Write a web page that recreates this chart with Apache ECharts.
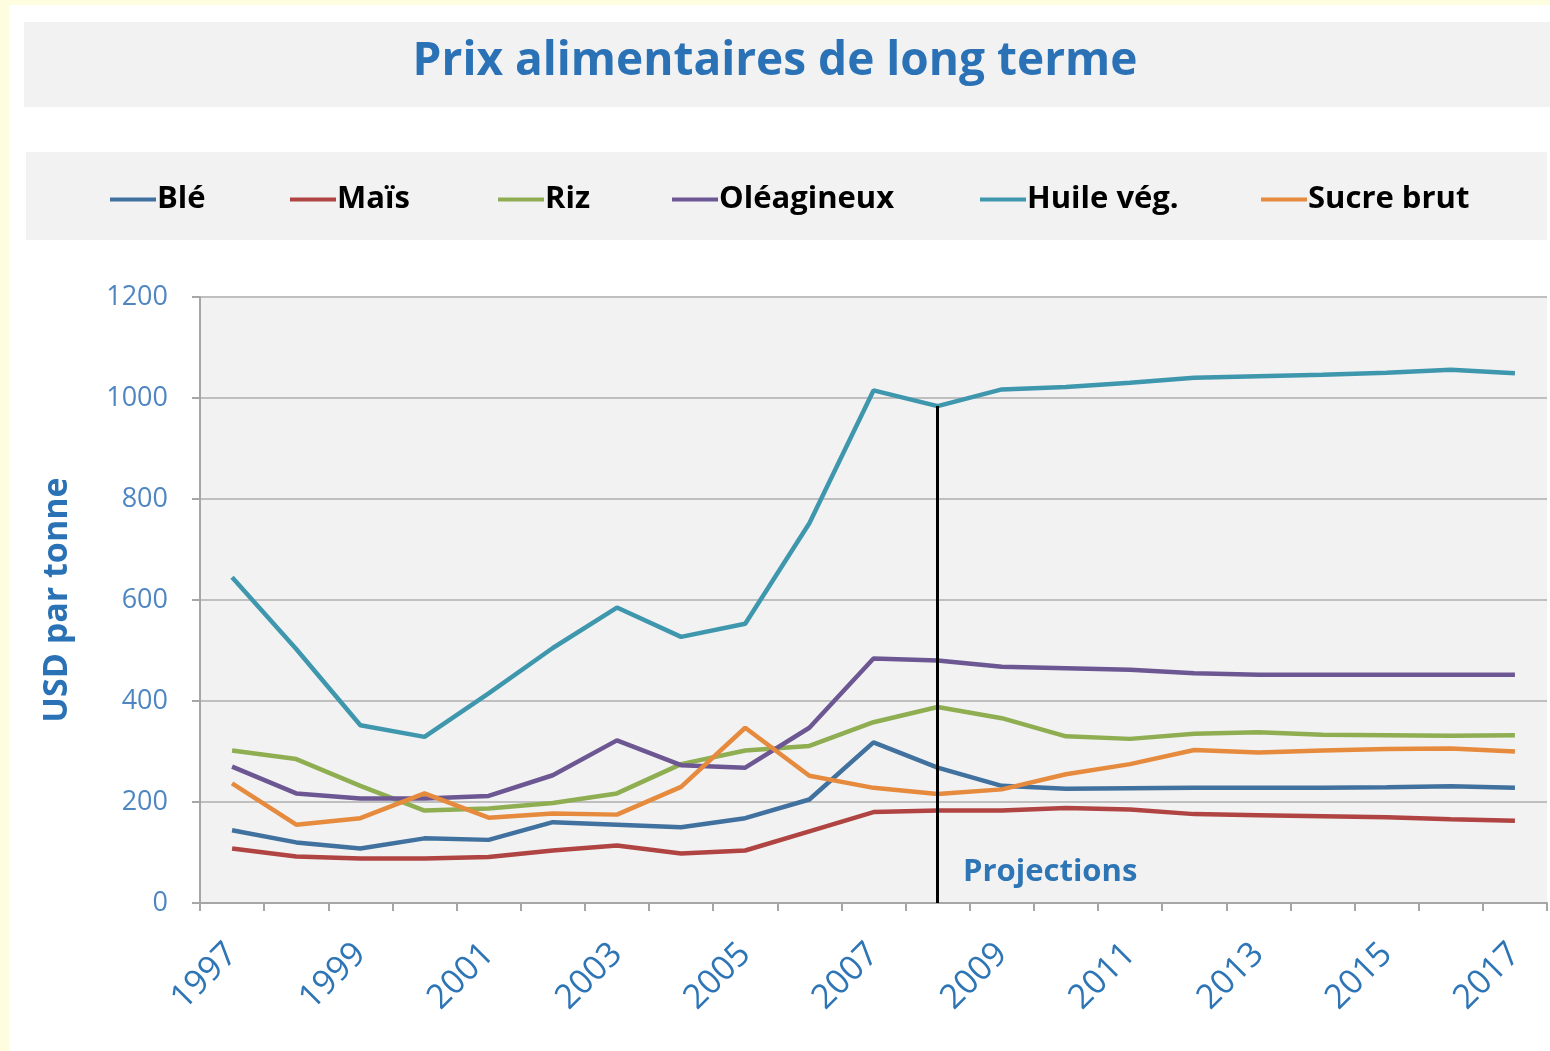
<!DOCTYPE html>
<html>
<head>
<meta charset="utf-8">
<script src="https://cdn.jsdelivr.net/npm/echarts@6/dist/echarts.min.js"></script>
<style>
  html, body { margin: 0; padding: 0; background: #fff; }
  #main { width: 1550px; height: 1051px; }
</style>
</head>
<body>
<div id="main"></div>
<script>
// données (USD par tonne)
var years = ['1997', '1998', '1999', '2000', '2001', '2002', '2003', '2004', '2005', '2006', '2007',
    '2008', '2009', '2010', '2011', '2012', '2013', '2014', '2015', '2016', '2017'];
var ble = [144, 120, 108, 128, 125, 160, 155, 150, 168, 205, 318, 268, 232, 226, 227, 228, 228, 228, 229, 231, 228];
var mais = [108, 92, 88, 88, 91, 104, 114, 98, 104, 142, 180, 183, 183, 188, 185, 176, 174, 172, 170, 166, 163];
var riz = [302, 285, 232, 183, 187, 198, 217, 275, 302, 311, 358, 388, 366, 330, 325, 335, 338, 333, 332, 331, 332];
var oleagineux = [270, 217, 207, 207, 212, 253, 322, 273, 268, 347, 484, 480, 468, 465, 462, 455, 452, 452, 452, 452, 452];
var huile = [645, 503, 352, 329, 415, 505, 585, 527, 553, 752, 1015, 984, 1017, 1022, 1030, 1040, 1043, 1046, 1050, 1056, 1049];
var sucre = [237, 155, 168, 217, 169, 177, 175, 230, 347, 252, 228, 216, 225, 255, 275, 303, 298, 302, 305, 306, 300];
var yTicks = [0, 200, 400, 600, 800, 1000, 1200];
var projYear = '2008';
var projTop = 984;

var names = ['Blé', 'Maïs', 'Riz', 'Oléagineux', 'Huile vég.', 'Sucre brut'];
var values = [ble, mais, riz, oleagineux, huile, sucre];
var colors = ['#41719f', '#b04442', '#8fae52', '#6c5793', '#3f97ae', '#e68a3e'];
var legendLeft = [105, 285, 493, 667, 975, 1256];

var myChart = echarts.init(document.getElementById('main'));

var seriesArr = [];
names.forEach(function (n, i) {
    var s = {
        name: n,
        type: 'line',
        data: values[i],
        symbol: 'none',
        lineStyle: { width: 4.5, color: colors[i] },
        itemStyle: { color: colors[i] },
        z: 3
    };
    if (n === 'Huile vég.') {
        // trait vertical "Projections"
        s.markLine = {
            silent: true,
            symbol: 'none',
            label: { show: false },
            lineStyle: { color: '#000', width: 3, type: 'solid' },
            data: [[{ coord: [projYear, 0] }, { coord: [projYear, projTop] }]]
        };
    }
    seriesArr.push(s);
});

var legends = names.map(function (n, i) {
    return {
        data: [n],
        left: legendLeft[i],
        top: 179,
        icon: 'rect',
        itemWidth: 46,
        itemHeight: 4,
        itemGap: 0,
        textStyle: {
            fontFamily: 'Open Sans',
            fontWeight: 'bold',
            fontSize: 31,
            color: '#000',
            padding: [0, 0, 0, -4]
        }
    };
});

var option = {
    backgroundColor: '#fff',
    animation: false,
    graphic: [
        { type: 'rect', left: 0, top: 0, shape: { width: 9, height: 1051 }, style: { fill: '#fffde0' } },
        { type: 'rect', left: 0, top: 0, shape: { width: 1550, height: 5 }, style: { fill: '#fffde0' } },
        { type: 'rect', left: 24, top: 22, shape: { width: 1526, height: 85 }, style: { fill: '#f2f2f2' } },
        { type: 'rect', left: 26, top: 152, shape: { width: 1521, height: 88 }, style: { fill: '#f2f2f2' } },
        {
            type: 'text', left: 963, top: 857, z: 10,
            style: { text: 'Projections', fill: '#2e75b6', font: 'bold 31px "Open Sans"' }
        }
    ],
    title: {
        text: 'Prix alimentaires de long terme',
        left: 'center',
        top: 34,
        textStyle: { fontFamily: 'Open Sans', fontWeight: 'bold', fontSize: 46, color: '#2a72b5' }
    },
    legend: legends,
    grid: {
        left: 200,
        right: 3,
        top: 297,
        bottom: 148,
        show: true,
        backgroundColor: '#f2f2f2',
        borderWidth: 0
    },
    xAxis: {
        type: 'category',
        data: years,
        boundaryGap: true,
        axisLine: { show: true, lineStyle: { color: '#a6a6a6', width: 2 } },
        axisTick: { show: true, interval: 0, length: 8, lineStyle: { color: '#a6a6a6', width: 2 } },
        axisLabel: {
            interval: 1,
            rotate: 45,
            margin: 46,
            fontFamily: 'Open Sans',
            fontSize: 34,
            color: '#2e75b6'
        },
        splitLine: { show: false }
    },
    yAxis: {
        type: 'value',
        min: yTicks[0],
        max: yTicks[yTicks.length - 1],
        interval: 200,
        name: 'USD par tonne',
        nameLocation: 'middle',
        nameRotate: 90,
        nameGap: 126,
        nameTextStyle: { fontFamily: 'Open Sans', fontWeight: 'bold', fontSize: 34, color: '#2a72b5' },
        axisLine: { show: true, lineStyle: { color: '#a6a6a6', width: 2 } },
        axisTick: { show: true, length: 8, lineStyle: { color: '#a6a6a6', width: 2 } },
        axisLabel: {
            margin: 32,
            fontFamily: 'Open Sans',
            fontSize: 27,
            color: '#4f86c2',
            formatter: function (v) { return String(v); }
        },
        splitLine: { show: true, lineStyle: { color: '#bfbfbf', width: 2 } }
    },
    series: seriesArr
};

myChart.setOption(option);
</script>
</body>
</html>
